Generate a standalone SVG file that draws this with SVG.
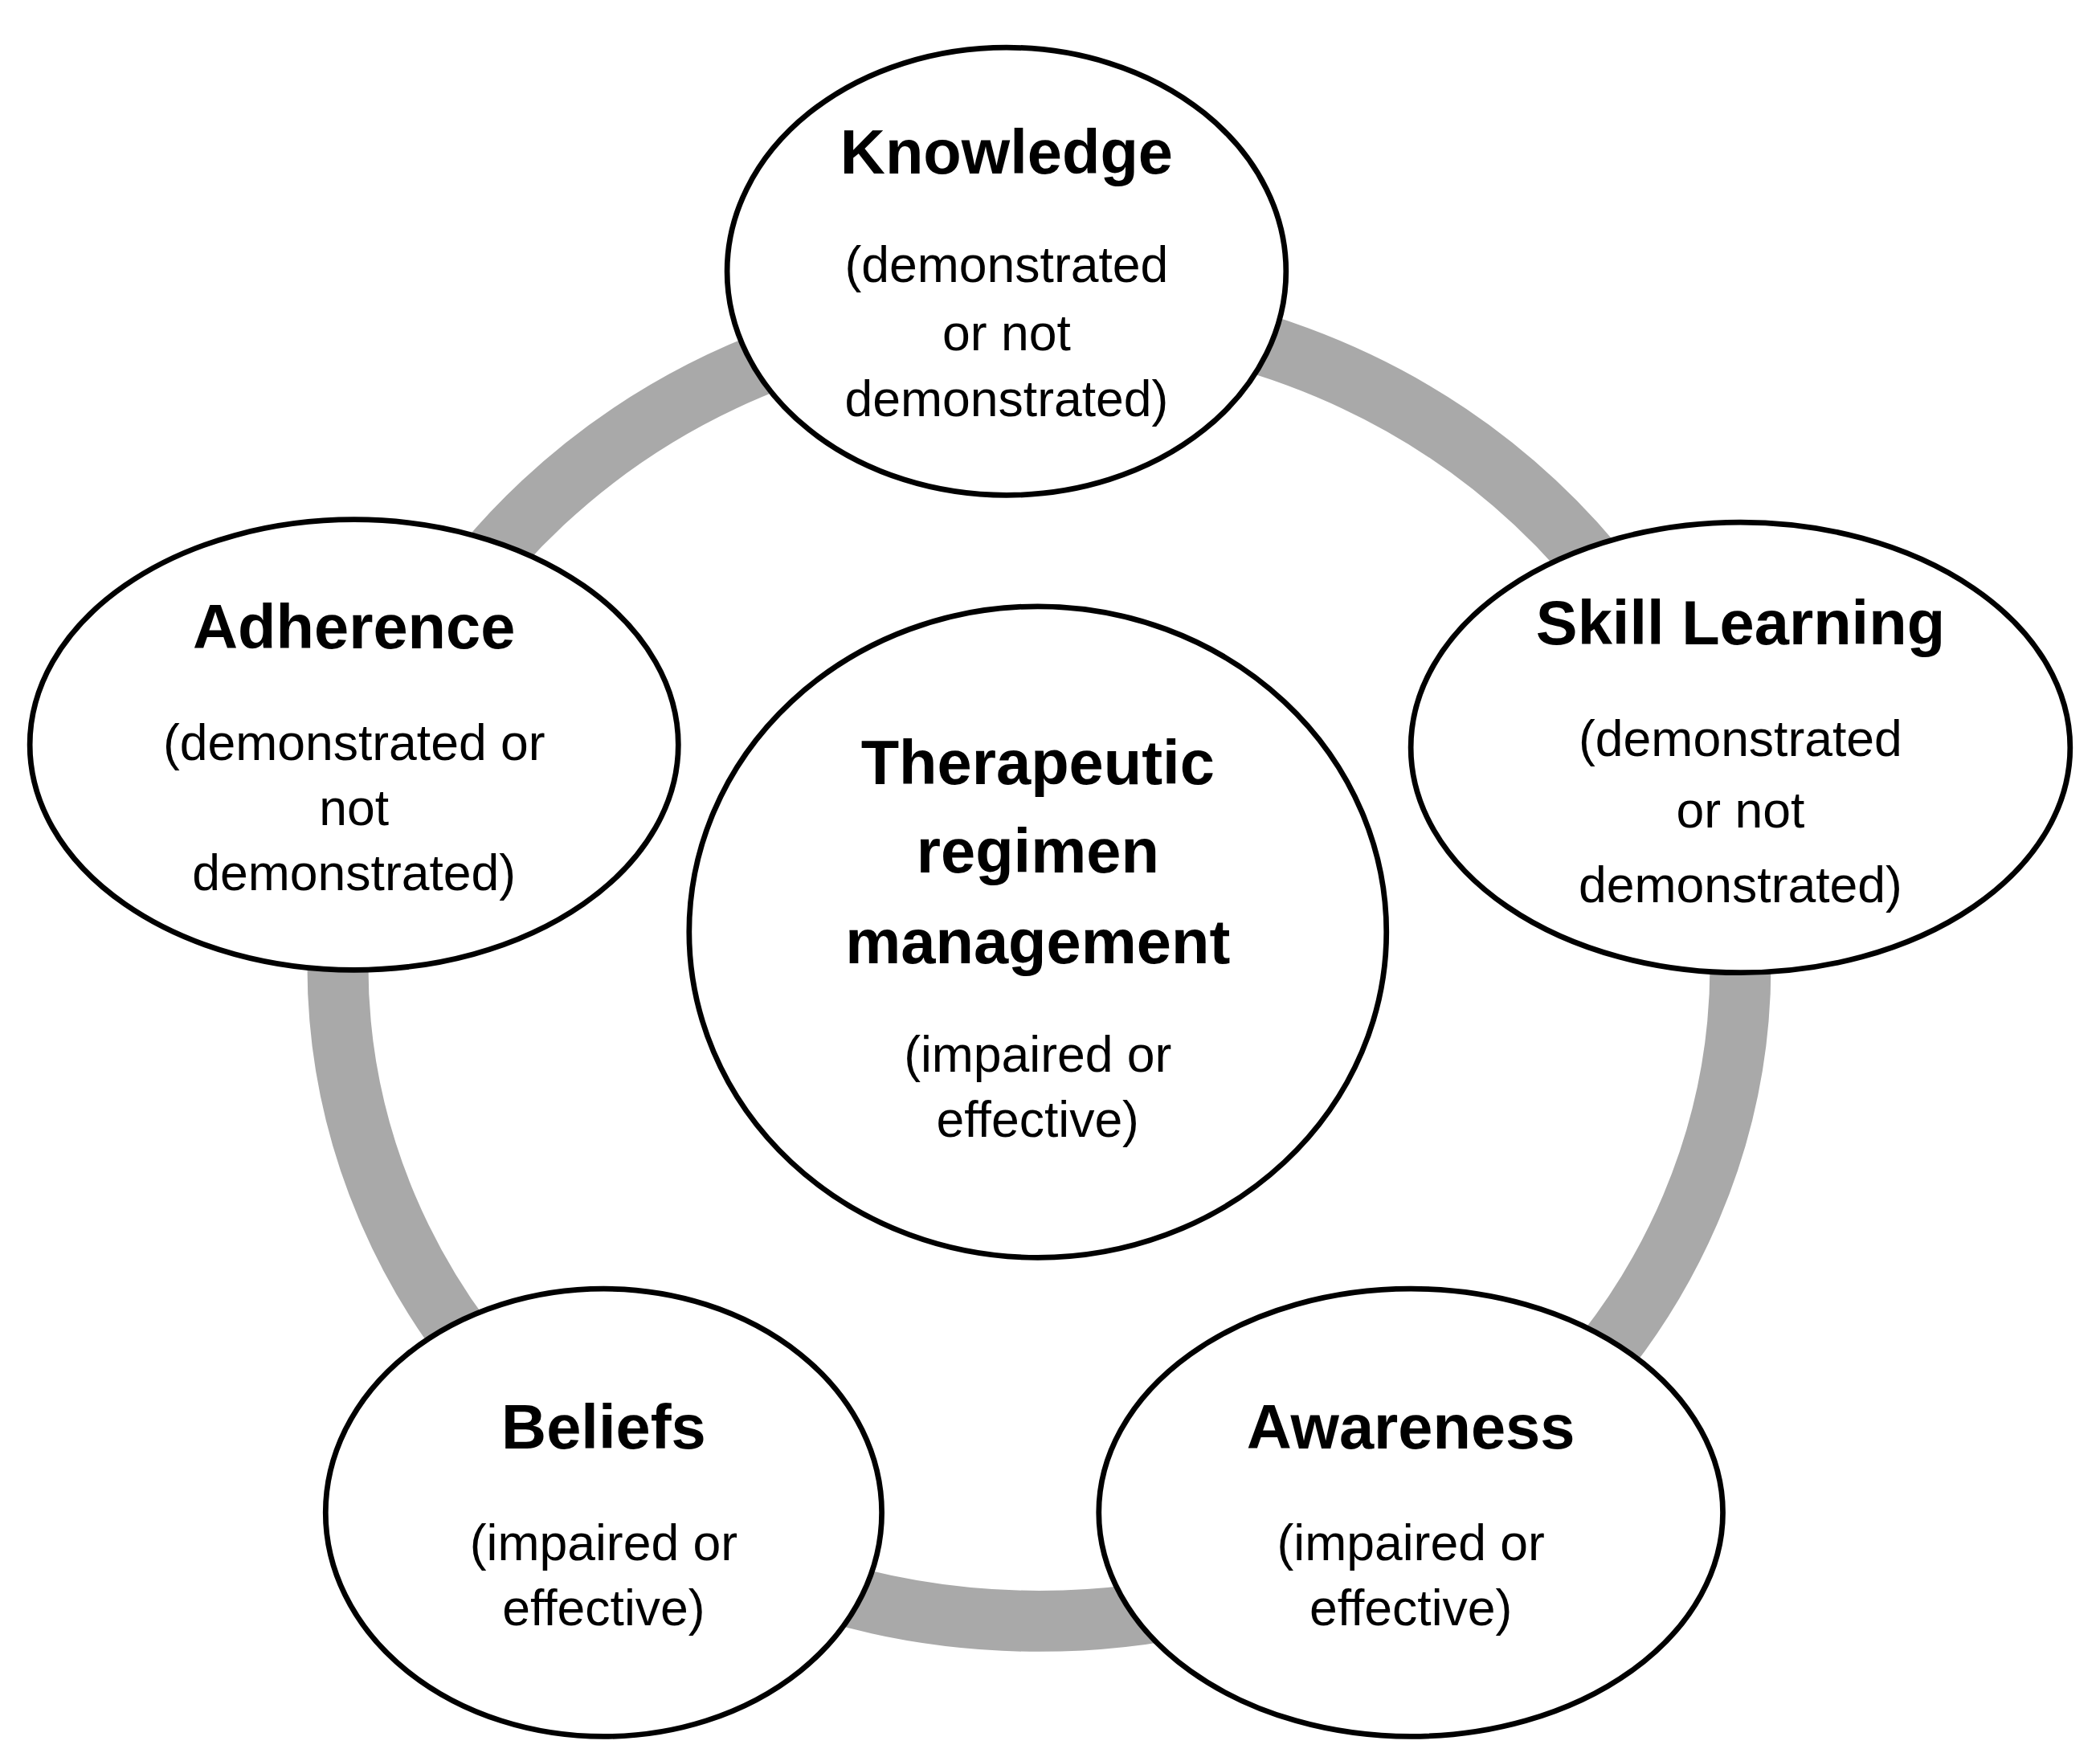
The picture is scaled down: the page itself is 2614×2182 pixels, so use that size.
<svg xmlns="http://www.w3.org/2000/svg" width="2614" height="2182" viewBox="0 0 2614 2182">
<style>
.n{fill:#fff;stroke:#000;stroke-width:4}
.t{font-family:"Liberation Sans",Arial,sans-serif;font-weight:bold;font-size:46px;text-anchor:middle;fill:#000}
.s{font-family:"Liberation Sans",Arial,sans-serif;font-size:37px;text-anchor:middle;fill:#000}
</style>
<rect width="2614" height="2182" fill="#fff"/>
<g transform="scale(1.6886)">
<g id="connectors"><ellipse cx="766" cy="712" rx="517" ry="483" fill="none" stroke="#a9a9a9" stroke-width="45"/></g>
<g id="knowledge"><ellipse class="n" cx="742" cy="200" rx="206" ry="165"/>
<text class="t" x="742" y="128">Knowledge</text><text class="s" x="742" y="208">(demonstrated</text><text class="s" x="742" y="258">or not</text><text class="s" x="742" y="307">demonstrated)</text></g>
<g id="skill"><ellipse class="n" cx="1283" cy="551" rx="243" ry="166"/>
<text class="t" x="1283" y="475">Skill Learning</text><text class="s" x="1283" y="557">(demonstrated</text><text class="s" x="1283" y="610">or not</text><text class="s" x="1283" y="665">demonstrated)</text></g>
<g id="awareness"><ellipse class="n" cx="1040" cy="1115" rx="230" ry="165"/>
<text class="t" x="1040" y="1068">Awareness</text><text class="s" x="1040" y="1150">(impaired or</text><text class="s" x="1040" y="1198">effective)</text></g>
<g id="beliefs"><ellipse class="n" cx="445" cy="1115" rx="205" ry="165"/>
<text class="t" x="445" y="1068">Beliefs</text><text class="s" x="445" y="1150">(impaired or</text><text class="s" x="445" y="1198">effective)</text></g>
<g id="adherence"><ellipse class="n" cx="261" cy="549" rx="239" ry="166"/>
<text class="t" x="261" y="478">Adherence</text><text class="s" x="261" y="560">(demonstrated or</text><text class="s" x="261" y="608">not</text><text class="s" x="261" y="656">demonstrated)</text></g>
<g id="center"><ellipse class="n" cx="765" cy="687" rx="257" ry="240"/>
<text class="t" x="765" y="578">Therapeutic</text><text class="t" x="765" y="643">regimen</text><text class="t" x="765" y="710">management</text><text class="s" x="765" y="790">(impaired or</text><text class="s" x="765" y="838">effective)</text></g>
</g>
</svg>
